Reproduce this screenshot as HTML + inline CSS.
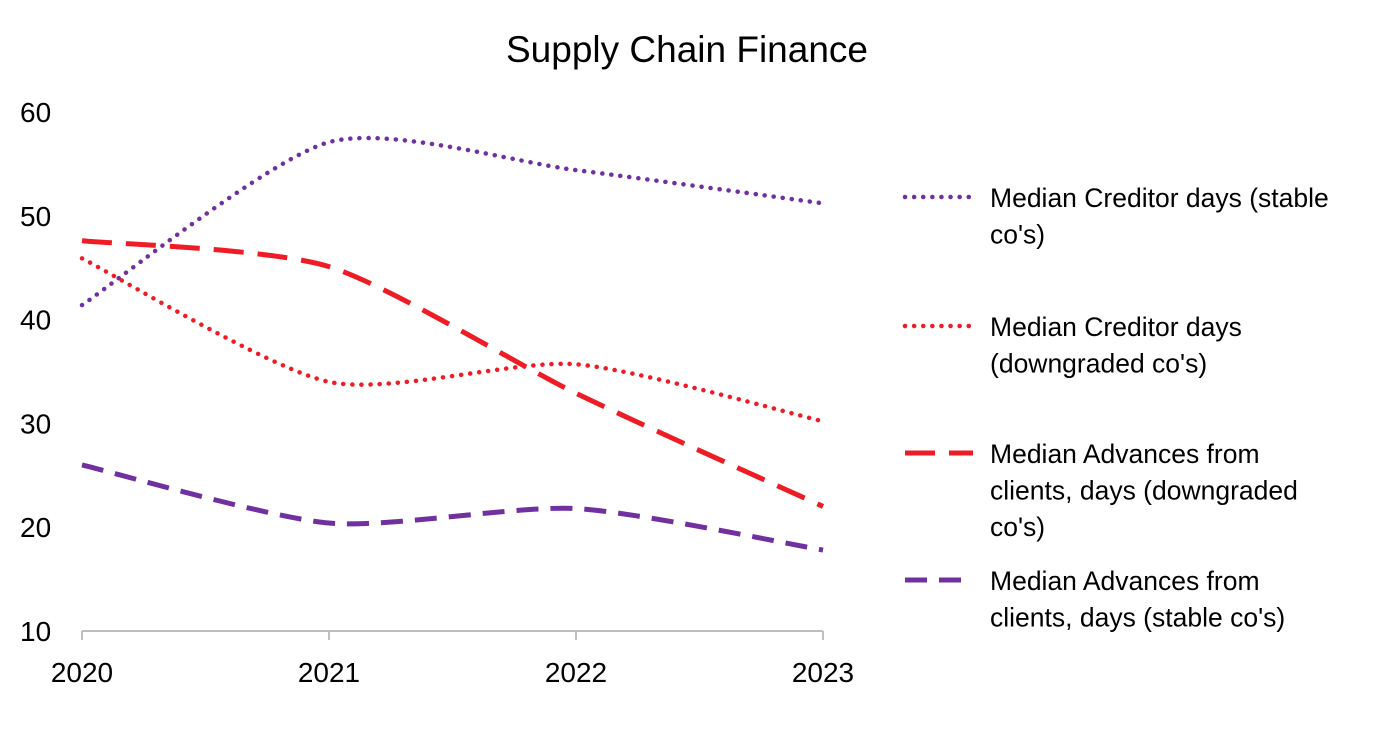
<!DOCTYPE html>
<html><head><meta charset="utf-8"><style>
body{margin:0;background:#fff;}
svg text{font-family:"Liberation Sans",sans-serif;fill:#000;}
</style></head><body>
<svg id="chart" width="1374" height="745" viewBox="0 0 1374 745" xmlns="http://www.w3.org/2000/svg">
<text x="687" y="62" text-anchor="middle" font-size="37">Supply Chain Finance</text>
<g id="axes"></g><g id="series"></g><g id="legend"></g>
</svg>
<script>
const years = ["2020","2021","2022","2023"];
const yTicks = [10,20,30,40,50,60];
const creditorStable = [41.4,57.1,54.4,51.2];
const creditorDown = [45.9,34.0,35.7,30.2];
const advancesDown = [47.6,45.1,32.9,22.0];
const advancesStable = [26.0,20.4,21.8,17.8];
const seriesNames = ["Median Creditor days (stable|co's)","Median Creditor days|(downgraded co's)","Median Advances from|clients, days (downgraded|co's)","Median Advances from|clients, days (stable co's)"];

const NS="http://www.w3.org/2000/svg";
const x0=82,x1=823,yBase=631,pxPer=10.38;
const xs=i=>x0+i*(x1-x0)/(years.length-1);
const ys=v=>yBase-(v-10)*pxPer;
function mk(t,a,p){const e=document.createElementNS(NS,t);for(const k in a)e.setAttribute(k,a[k]);p.appendChild(e);return e;}
const axes=document.getElementById('axes');
yTicks.forEach(v=>{const t=mk('text',{x:20,y:ys(v)+10,'font-size':28},axes);t.textContent=v;

});
const ax=mk('line',{x1:x0,x2:x1,y1:yBase,y2:yBase,stroke:'#bfbfbf','stroke-width':2},axes);


years.forEach((y,i)=>{const tk=mk('line',{x1:xs(i),x2:xs(i),y1:yBase,y2:yBase+9,stroke:'#bfbfbf','stroke-width':2},axes);


const t=mk('text',{x:xs(i),y:yBase+51,'font-size':28,'text-anchor':'middle'},axes);t.textContent=y;

});
function smooth(vals){const p=vals.map((v,i)=>[xs(i),ys(v)]);let d=`M${p[0][0]},${p[0][1]}`;
for(let i=0;i<p.length-1;i++){const a=p[i-1]||p[i],b=p[i],c=p[i+1],e=p[i+2]||c;const k=0.12;
d+=` C${b[0]+(c[0]-a[0])*k},${b[1]+(c[1]-a[1])*k} ${c[0]-(e[0]-b[0])*k},${c[1]-(e[1]-b[1])*k} ${c[0]},${c[1]}`;}return d;}
const styles=[{c:'#7030A0',dash:'0.1 9',cap:'round',w:4.5},{c:'#EE1C25',dash:'0.1 9',cap:'round',w:4.5},{c:'#EE1C25',dash:'30 14',cap:'butt',w:5},{c:'#7030A0',dash:'22 12',cap:'butt',w:5}];
const data=[creditorStable,creditorDown,advancesDown,advancesStable];
const names=['series-creditor-stable','series-creditor-downgraded','series-advances-downgraded','series-advances-stable'];
const sg=document.getElementById('series'),lg=document.getElementById('legend');
const legY=[197,326,453,580];
data.forEach((d,i)=>{const s=styles[i];
const p=mk('path',{d:smooth(d),fill:'none',stroke:s.c,'stroke-width':s.w,'stroke-dasharray':s.dash,'stroke-linecap':s.cap},sg);


const g=mk('g',{},lg);


mk('line',{x1:905,x2:973,y1:legY[i],y2:legY[i],stroke:s.c,'stroke-width':s.w,'stroke-dasharray':s.dash,'stroke-linecap':s.cap},g);
seriesNames[i].split('|').forEach((ln,j)=>{const t=mk('text',{x:990,y:legY[i]+10+j*36.5,'font-size':26.5},g);t.textContent=ln;});
});
</script>
</body></html>
